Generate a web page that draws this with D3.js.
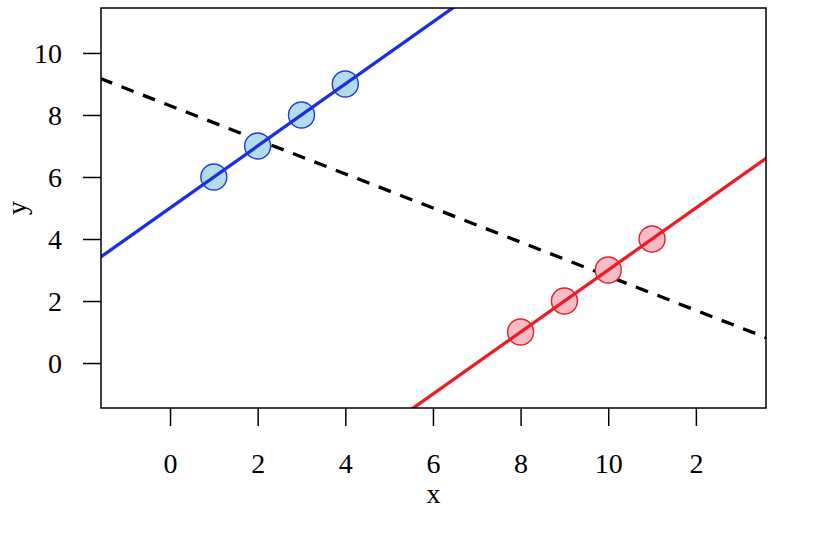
<!DOCTYPE html>
<html><head><meta charset="utf-8">
<script src="https://cdn.jsdelivr.net/npm/d3@7"></script>
<style>body{margin:0;background:#fff}svg{display:block}svg text{font-family:"Liberation Serif","Times New Roman",serif !important;font-size:28px !important;fill:#000}</style>
</head><body>
<script>
const blueX = [1, 2, 3, 4];
const blueY = [6, 7, 8, 9];
const redX = [8, 9, 10, 11];
const redY = [1, 2, 3, 4];
// fitted lines: [intercept, slope]
const blueLine = [5, 1];
const redLine = [-7, 1];
const allLine = [8.3, -0.55];
const xTicks = [0, 2, 4, 6, 8, 10, 12];
const xTickLabels = ["0", "2", "4", "6", "8", "10", "2"];
const yTicks = [0, 2, 4, 6, 8, 10];
const xDomain = [-1.575, 13.6];
const yDomain = [-1.45, 11.45];

const W = 832, H = 552;
const L = 101, R = 766, T = 8, B = 408;
const svg = d3.select("body").append("svg").attr("width", W).attr("height", H);
const x = d3.scaleLinear().domain(xDomain).range([L, R]);
const y = d3.scaleLinear().domain(yDomain).range([B, T]);

svg.append("defs").append("clipPath").attr("id", "clip")
  .append("rect").attr("x", L).attr("y", T).attr("width", R - L).attr("height", B - T);
const plot = svg.append("g").attr("clip-path", "url(#clip)");

function drawLine(coef, color, dash) {
  const xs = [xDomain[0] - 1, xDomain[1] + 1];
  plot.append("line")
    .attr("x1", x(xs[0])).attr("y1", y(coef[0] + coef[1] * xs[0]))
    .attr("x2", x(xs[1])).attr("y2", y(coef[0] + coef[1] * xs[1]))
    .attr("stroke", color).attr("stroke-width", 3.3)
    .attr("stroke-dasharray", dash || null);
}
drawLine(allLine, "#000", "13,10");

function drawPoints(xs, ys, fill, stroke) {
  plot.selectAll(null).data(xs.map((v, i) => [v, ys[i]])).enter().append("circle")
    .attr("cx", d => x(d[0])).attr("cy", d => y(d[1])).attr("r", 13)
    .attr("fill", fill).attr("stroke", stroke).attr("stroke-width", 1.4);
}
drawPoints(blueX, blueY, "#b3dcea", "#1f3ce0");
drawPoints(redX, redY, "#f8bcc6", "#e0202a");
drawLine(blueLine, "#1a2ee8");
drawLine(redLine, "#ee1b24");

// frame
svg.append("rect").attr("x", L).attr("y", T).attr("width", R - L).attr("height", B - T)
  .attr("fill", "none").attr("stroke", "#000").attr("stroke-width", 1.5);

// x axis
const xa = svg.append("g").attr("transform", `translate(0,${B})`)
  .call(d3.axisBottom(x).tickValues(xTicks).tickSize(18).tickSizeOuter(0)
    .tickFormat((d, i) => xTickLabels[i]));
xa.select(".domain").remove();
xa.selectAll(".tick line").attr("stroke", "#000").attr("stroke-width", 1.5);
xa.selectAll(".tick text").attr("dy", null).attr("y", 65);

// y axis
const ya = svg.append("g").attr("transform", `translate(${L},0)`)
  .call(d3.axisLeft(y).tickValues(yTicks).tickSize(18).tickSizeOuter(0));
ya.select(".domain").remove();
ya.selectAll(".tick line").attr("stroke", "#000").attr("stroke-width", 1.5);
ya.selectAll(".tick text").attr("x", -39).attr("dy", "0.34em");

svg.append("text").attr("x", (L + R) / 2).attr("y", 503).attr("text-anchor", "middle").text("x");
svg.append("text").attr("transform", `translate(26,${(T + B) / 2}) rotate(-90)`)
  .attr("text-anchor", "middle").text("y");
</script>
</body></html>
